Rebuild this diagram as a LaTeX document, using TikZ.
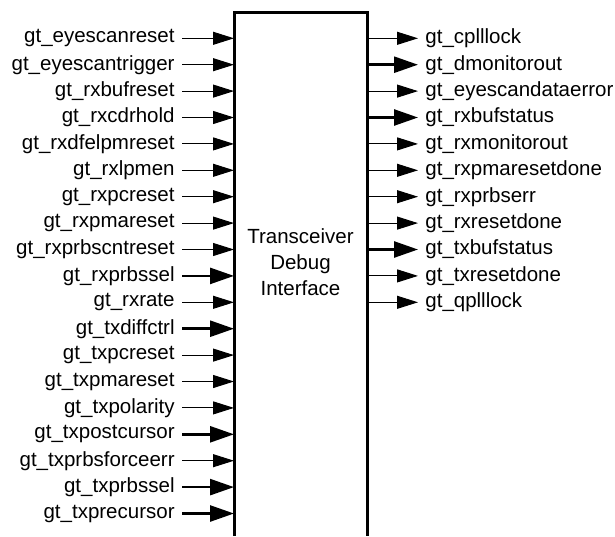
\documentclass[tikz,border=0pt]{standalone}
\usepackage{fontspec}
\setmainfont{Liberation Sans}
\usetikzlibrary{arrows.meta}
\tikzset{
  sig/.style={line width=0.5pt,>={Triangle[length=10.5pt,width=6.5pt]},->},
  bus/.style={line width=1.3pt,>={Triangle[length=12pt,width=8pt]},->},
  port/.style={inner sep=3.5pt},
}
\begin{document}
\begin{tikzpicture}[x=0.5pt,y=-0.5pt,font=\fontsize{10.25}{13}\selectfont]
\useasboundingbox (0,0) rectangle (615,536);
\coordinate (bl) at (234,12);
\coordinate (br) at (367,12);
\draw[line width=1.5pt] (234,536) -- (bl) -- (br) -- (367,536);
\node[align=center] (dbg) at (300.5,262) {Transceiver\\Debug\\Interface};

% inputs
\foreach \s/\w [count=\i] in {eyescanreset/sig,eyescantrigger/sig,rxbufreset/sig,rxcdrhold/sig,
  rxdfelpmreset/sig,rxlpmen/sig,rxpcreset/sig,rxpmareset/sig,rxprbscntreset/sig,rxprbssel/bus,
  rxrate/sig,txdiffctrl/bus,txpcreset/sig,txpmareset/sig,txpolarity/sig,txpostcursor/bus,
  txprbsforceerr/sig,txprbssel/bus,txprecursor/bus} {
  \node[port,anchor=east] (in\i) at (182,{38.3+(\i-1)*26.4}) {gt\_\s};
  \draw[\w] (in\i.east) -- (in\i.east -| bl);
}

% outputs
\foreach \s/\w [count=\i] in {cplllock/sig,dmonitorout/bus,eyescandataerror/sig,rxbufstatus/bus,
  rxmonitorout/sig,rxpmaresetdone/sig,rxprbserr/sig,rxresetdone/sig,txbufstatus/bus,
  txresetdone/sig,qplllock/sig} {
  \node[port,anchor=west] (out\i) at (418,{38.3+(\i-1)*26.4}) {gt\_\s};
  \draw[\w] (out\i.west -| br) -- (out\i.west);
}
\end{tikzpicture}
\end{document}
